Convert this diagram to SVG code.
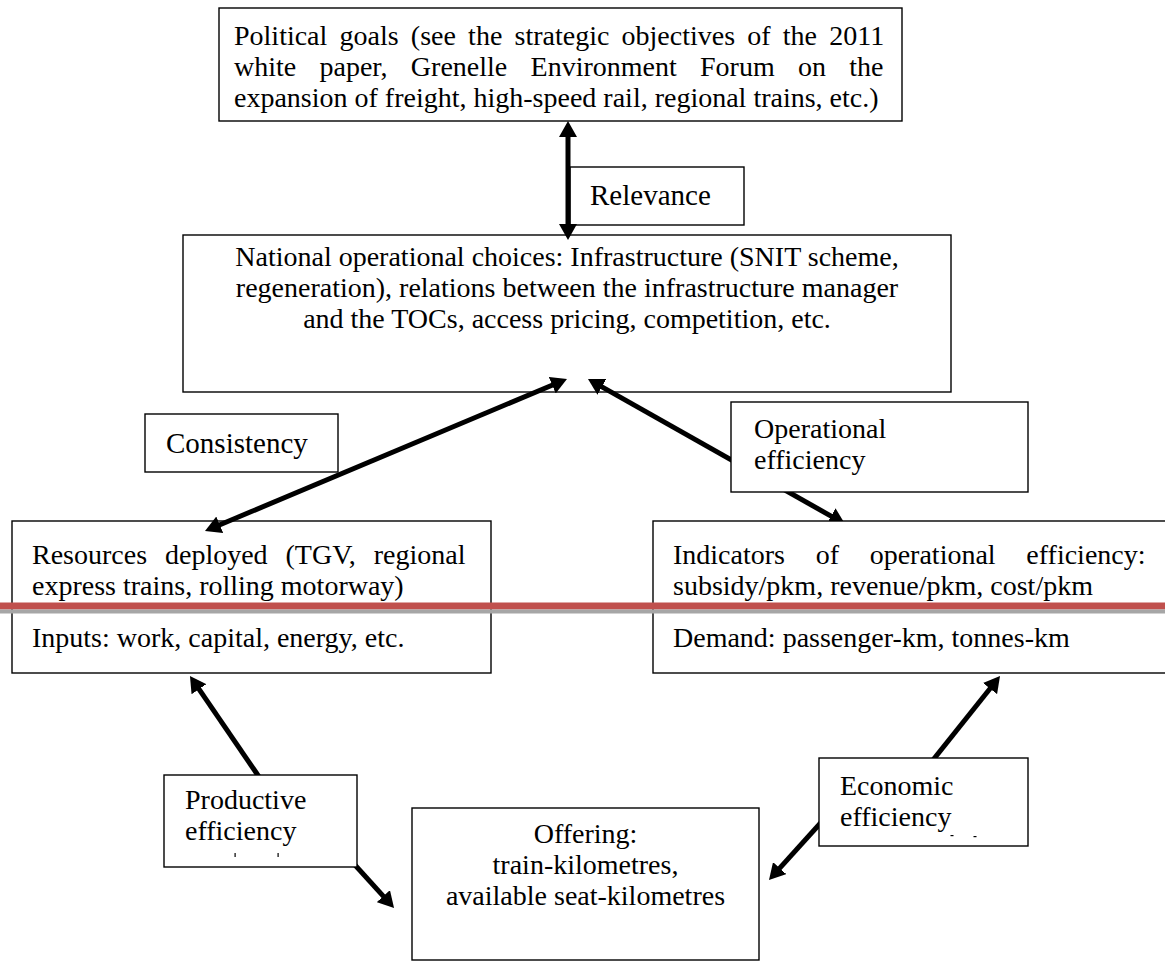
<svg xmlns="http://www.w3.org/2000/svg" width="1165" height="963" viewBox="0 0 1165 963">
<defs>
<style>
.box{fill:#fff;stroke:#000;stroke-width:1.4}
.t{font-family:"Liberation Serif","Times New Roman",serif;font-size:28px;fill:#000}
.l{font-size:29px}
.c{text-anchor:middle}
.conn{stroke:#000;stroke-width:5;fill:none}
.tick{fill:#000}
</style>
<marker id="ah" viewBox="0 0 16 18" refX="3" refY="9" markerWidth="16" markerHeight="18" markerUnits="userSpaceOnUse" orient="auto-start-reverse">
<path d="M0,0 L16,9 L0,18 Z" fill="#000"/>
</marker>
</defs>

<g id="political-goals">
<rect class="box" x="219" y="8" width="683" height="113"/>
<text class="t"><tspan x="234" y="45" word-spacing="5.2">Political goals (see the strategic objectives of the 2011</tspan><tspan x="234" y="76" word-spacing="16.3">white paper, Grenelle Environment Forum on the</tspan><tspan x="234" y="107">expansion of freight, high-speed rail, regional trains, etc.)</tspan></text>
</g>

<g id="relevance">
<rect class="box" x="570" y="167" width="174" height="58"/>
<text class="t l" x="590" y="205">Relevance</text>
</g>

<g id="national-choices">
<rect class="box" x="183" y="235" width="768" height="157"/>
<text class="t c"><tspan x="567" y="266">National operational choices: Infrastructure (SNIT scheme,</tspan><tspan x="567" y="297">regeneration), relations between the infrastructure manager</tspan><tspan x="567" y="328">and the TOCs, access pricing, competition, etc.</tspan></text>
</g>

<g id="consistency">
<rect class="box" x="145" y="414" width="193" height="58"/>
<text class="t l" x="166" y="453">Consistency</text>
</g>

<g id="resources">
<rect class="box" x="12" y="521" width="479" height="152"/>
<text class="t"><tspan x="32" y="564" word-spacing="10.9">Resources deployed (TGV, regional</tspan><tspan x="32" y="595">express trains, rolling motorway)</tspan><tspan x="32" y="647">Inputs: work, capital, energy, etc.</tspan></text>
</g>

<g id="offering">
<rect class="box" x="412" y="808" width="347" height="152"/>
<text class="t c"><tspan x="585.5" y="843">Offering:</tspan><tspan x="585.5" y="874">train-kilometres,</tspan><tspan x="585.5" y="905">available seat-kilometres</tspan></text>
</g>

<g id="connectors">
<path class="conn" d="M568,134 L568,227" marker-start="url(#ah)" marker-end="url(#ah)"/>
<path class="conn" d="M217,526 L555,384" marker-start="url(#ah)" marker-end="url(#ah)"/>
<path class="conn" d="M599.3,385.4 L833.7,517.6" marker-start="url(#ah)" marker-end="url(#ah)"/>
<path class="conn" d="M268,790 L197.3,686.7" marker-end="url(#ah)"/>
<path class="conn" d="M345,854 L385.3,898.4" marker-end="url(#ah)"/>
<path class="conn" d="M925,770 L991.9,686.2" marker-end="url(#ah)"/>
<path class="conn" d="M835,807 L777.7,870.4" marker-end="url(#ah)"/>
</g>

<g id="operational-efficiency">
<rect class="box" x="731" y="402" width="297" height="90"/>
<text class="t"><tspan x="754" y="438">Operational</tspan><tspan x="754" y="469">efficiency</tspan></text>
</g>

<g id="indicators">
<rect class="box" x="653" y="521" width="520" height="152"/>
<text class="t"><tspan x="673" y="564" word-spacing="23.7">Indicators of operational efficiency:</tspan><tspan x="673" y="595">subsidy/pkm, revenue/pkm, cost/pkm</tspan><tspan x="673" y="647">Demand: passenger-km, tonnes-km</tspan></text>
</g>

<g id="productive-efficiency">
<rect class="box" x="164" y="775" width="193" height="92"/>
<text class="t"><tspan x="185" y="809">Productive</tspan><tspan x="185" y="840">efficiency</tspan></text>
<rect class="tick" x="234.5" y="853" width="1.2" height="4"/>
<rect class="tick" x="277.5" y="853" width="1.2" height="4"/>
</g>

<g id="economic-efficiency">
<rect class="box" x="819" y="758" width="209" height="88"/>
<text class="t"><tspan x="840" y="795">Economic</tspan><tspan x="840" y="826">efficiency</tspan></text>
<rect class="tick" x="950.5" y="835" width="3" height="1.2"/>
<rect class="tick" x="973.5" y="836" width="3" height="1.2"/>
</g>

<g id="rule">
<rect x="0" y="602.5" width="1165" height="7" fill="#C0504D"/>
<rect x="0" y="609.5" width="1165" height="4" fill="#A6A6A6"/>
</g>
</svg>
